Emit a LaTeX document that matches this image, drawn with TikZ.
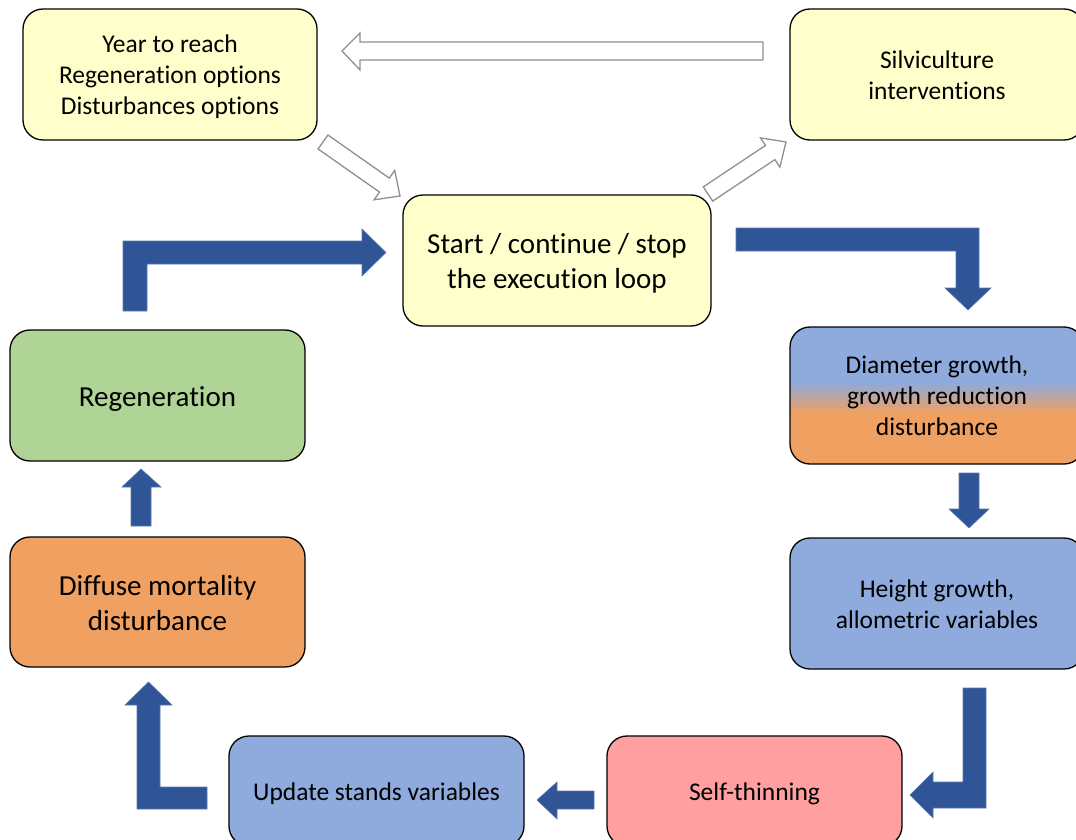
\documentclass[tikz,border=0pt]{standalone}
\usepackage{fontspec}
\setmainfont{Carlito}[Ligatures=NoCommon]
\definecolor{boxyellow}{HTML}{FFFFCC}
\definecolor{boxgreen}{HTML}{B0D496}
\definecolor{boxorange}{HTML}{F0A060}
\definecolor{boxblue}{HTML}{8FAADC}
\definecolor{boxpink}{HTML}{FF9F9F}
\definecolor{arrowblue}{HTML}{2F5597}
\definecolor{hollowgray}{HTML}{909090}
\newcommand\topstrut{\rule{0pt}{0.95em}}
\newcommand\botstrut{\rule[-0.21em]{0pt}{0.21em}}
\tikzset{
  stepbox/.style={draw=black, line width=1.3pt, rounded corners=20pt, inner sep=0pt,
    align=center, font=\fontsize{25.5}{31}\selectfont},
  bigtext/.style={font=\fontsize{29}{35}\selectfont},
  blockarrow/.style={fill=arrowblue, draw=arrowblue!80!white, line width=0.6pt},
  hollowarrow/.style={fill=white, draw=hollowgray, line width=1.3pt, line join=miter}
}
\begin{document}
\begin{tikzpicture}[x=1pt,y=-1pt]
\useasboundingbox (0,0) rectangle (1076,840);
\clip (0,0) rectangle (1076,840);

% gradient background of the diameter box
\begin{scope}
  \clip[rounded corners=20pt] (790,327) rectangle (1084,464);
  \fill[boxblue] (780,320) rectangle (1090,383);
  \shade[top color=boxblue, bottom color=boxorange] (780,382.5) rectangle (1090,413.5);
  \fill[boxorange] (780,413) rectangle (1090,470);
\end{scope}

% boxes
\node[stepbox, fill=boxyellow, minimum width=294pt, minimum height=131pt] (yr) at (170,74.5)
  {\topstrut Year to reach\\Regeneration options\\Disturbances options\botstrut};
\node[stepbox, fill=boxyellow, minimum width=294pt, minimum height=131pt] (silv) at (937,74.5)
  {\topstrut Silviculture\\interventions\botstrut};
\node[stepbox, bigtext, fill=boxyellow, minimum width=308pt, minimum height=131pt] (start) at (557,260.5)
  {\topstrut Start / continue / stop\\the execution loop\botstrut};
\node[stepbox, bigtext, fill=boxgreen, minimum width=295pt, minimum height=131pt] (regen) at (157.5,395.5)
  {\topstrut Regeneration\botstrut};
\node[stepbox, bigtext, fill=boxorange, minimum width=295pt, minimum height=130pt] (diffuse) at (157.5,602)
  {\topstrut Diffuse mortality\\disturbance\botstrut};
\node[stepbox, minimum width=294pt, minimum height=137pt] (diam) at (937,395.5)
  {\topstrut Diameter growth,\\growth reduction\\disturbance\botstrut};
\node[stepbox, fill=boxblue, minimum width=294pt, minimum height=131pt] (height) at (937,603.5)
  {\topstrut Height growth,\\allometric variables\botstrut};
\node[stepbox, fill=boxpink, minimum width=295pt, minimum height=110pt] (self) at (754.5,791)
  {\topstrut Self-thinning\botstrut};
\node[stepbox, fill=boxblue, minimum width=295pt, minimum height=110pt] (update) at (376.5,791)
  {\topstrut Update stands variables\botstrut};

% hollow arrows
\draw[hollowarrow] (763,42) -- (360,42) -- (360,33) -- (342,51) -- (360,70) -- (360,60) -- (763,60) -- cycle;
\draw[hollowarrow] (318.1,149.0) -- (379.5,192.1) -- (374.1,199.8) -- (400,196) -- (394.7,170.4) -- (389.3,178.1) -- (327.9,135.0) -- cycle;
\draw[hollowarrow] (712.7,201.1) -- (774.9,159.6) -- (779.9,167.1) -- (786,142) -- (760.5,137.9) -- (765.5,145.4) -- (703.3,186.9) -- cycle;

% blue block arrows
\fill[blockarrow] (123,311) -- (123,241) -- (362,241) -- (362,229) -- (386,252.5) -- (362,276) -- (362,264) -- (147,264) -- (147,311) -- cycle;
\fill[blockarrow] (736,228) -- (979,228) -- (979,288) -- (991,288) -- (968,310) -- (945,288) -- (956,288) -- (956,251) -- (736,251) -- cycle;
\fill[blockarrow] (959,473) -- (979,473) -- (979,509) -- (989,509) -- (969,528) -- (949,509) -- (959,509) -- cycle;
\fill[blockarrow] (963,688) -- (986,688) -- (986,808) -- (933,808) -- (933,818) -- (910,795) -- (933,772) -- (933,782) -- (963,782) -- cycle;
\fill[blockarrow] (594,791) -- (594,809) -- (557,809) -- (557,819) -- (537,800) -- (557,782) -- (557,791) -- cycle;
\fill[blockarrow] (207,787) -- (207,809) -- (160,809) -- (137,809) -- (137,705) -- (125,705) -- (148.5,682) -- (172,705) -- (160,705) -- (160,787) -- cycle;
\fill[blockarrow] (131,526) -- (131,487) -- (122,487) -- (141,469) -- (161,487) -- (151,487) -- (151,526) -- cycle;
\end{tikzpicture}
\end{document}
